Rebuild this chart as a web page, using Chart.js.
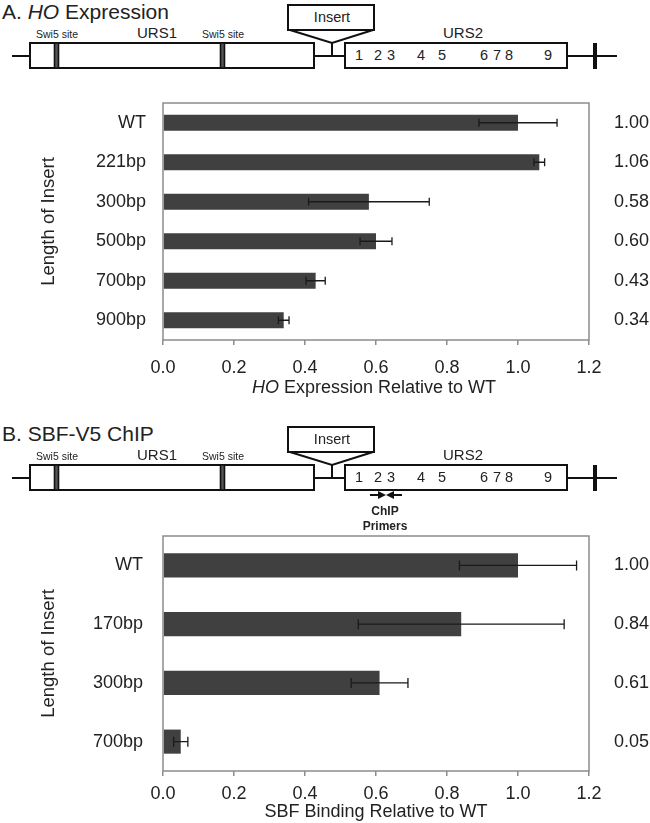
<!DOCTYPE html>
<html>
<head>
<meta charset="utf-8">
<script src="https://cdn.jsdelivr.net/npm/chart.js@4.4.1/dist/chart.umd.min.js"></script>
<style>
  body { margin: 0; background: #fff; }
  #page { position: relative; width: 650px; height: 823px; font-family: "Liberation Sans", Arial, sans-serif; color: #222; overflow: hidden; }
  .ptitle { position: absolute; left: 2px; font-size: 21px; line-height: 24px; white-space: nowrap; }
  .xtitle { position: absolute; font-size: 18px; line-height: 20px; white-space: nowrap; transform: translateX(-50%); }
  canvas, svg { position: absolute; left: 0; }
  svg { z-index: 2; }
  svg text { font-family: "Liberation Sans", Arial, sans-serif; fill: #222; }
</style>
</head>
<body>
<div id="page">
  <div class="ptitle" style="top:0">A. <i>HO</i> Expression</div>
  <svg id="diagA" width="650" height="90" style="top:0"></svg>
  <canvas id="chartA" width="650" height="310" style="top:90px"></canvas>
  <div class="xtitle" style="left:374px; top:377px"><i>HO</i> Expression Relative to WT</div>

  <div class="ptitle" style="top:422px">B. SBF-V5 ChIP</div>
  <svg id="diagB" width="650" height="113" style="top:422px"></svg>
  <canvas id="chartB" width="650" height="303" style="top:520px"></canvas>
</div>
<script>
// Panel A: HO expression relative to WT
const insertsA = ['WT', '221bp', '300bp', '500bp', '700bp', '900bp'];
const expressionA = [1.00, 1.06, 0.58, 0.60, 0.43, 0.34];
const errorA = [0.11, 0.015, 0.17, 0.045, 0.027, 0.015];

// Panel B: SBF binding relative to WT
const insertsB = ['WT', '170bp', '300bp', '700bp'];
const bindingB = [1.00, 0.84, 0.61, 0.05];
const errorB = [0.165, 0.29, 0.08, 0.02];

const xMin = 0, xMax = 1.2, xStep = 0.2;

// promoter sketch above each chart
const siteNums = ['1', '2', '3', '4', '5', '6', '7', '8', '9'];
const siteX = [359, 378, 391, 421, 442, 484, 497, 509, 548];

function drawDiagram(id, primers) {
  let s = '';
  s += '<line x1="12" y1="56" x2="617" y2="56" stroke="#111" stroke-width="2"/>';
  s += '<rect x="30" y="43" width="284" height="25" fill="#fff" stroke="#111" stroke-width="2"/>';
  s += '<rect x="54.5" y="43" width="4" height="25" fill="#555" stroke="#111" stroke-width="1.6"/>';
  s += '<rect x="220.5" y="43" width="4" height="25" fill="#555" stroke="#111" stroke-width="1.6"/>';
  s += '<rect x="345" y="43" width="222" height="25" fill="#fff" stroke="#111" stroke-width="2"/>';
  s += '<line x1="332" y1="42" x2="332" y2="56" stroke="#111" stroke-width="2"/>';
  s += '<polygon points="290,30 373,30 332,43" fill="#fff" stroke="#111" stroke-width="2"/>';
  s += '<rect x="288" y="5" width="86" height="25" fill="#fff" stroke="#111" stroke-width="2"/>';
  s += '<line x1="595" y1="43" x2="595" y2="69" stroke="#111" stroke-width="4"/>';
  s += '<text x="332" y="22" font-size="14.5" text-anchor="middle">Insert</text>';
  s += '<text x="57" y="38" font-size="10.5" text-anchor="middle">Swi5 site</text>';
  s += '<text x="223" y="38" font-size="10.5" text-anchor="middle">Swi5 site</text>';
  s += '<text x="157" y="38" font-size="15" text-anchor="middle">URS1</text>';
  s += '<text x="463" y="38" font-size="15" text-anchor="middle">URS2</text>';
  siteNums.forEach((n, i) => {
    s += '<text x="' + siteX[i] + '" y="60" font-size="14.5" text-anchor="middle">' + n + '</text>';
  });
  if (primers) {
    s += '<line x1="370" y1="73" x2="380" y2="73" stroke="#111" stroke-width="2"/>';
    s += '<polygon points="378,69 386,73 378,77" fill="#111"/>';
    s += '<line x1="392" y1="73" x2="402" y2="73" stroke="#111" stroke-width="2"/>';
    s += '<polygon points="394,69 386,73 394,77" fill="#111"/>';
    s += '<text x="385" y="93" font-size="12" font-weight="bold" text-anchor="middle">ChIP</text>';
    s += '<text x="385" y="108" font-size="12" font-weight="bold" text-anchor="middle">Primers</text>';
  }
  document.getElementById(id).innerHTML = s;
}
drawDiagram('diagA', false);
drawDiagram('diagB', true);

// error bars with caps, drawn on top of the bars
const errbars = {
  id: 'errbars',
  afterDatasetsDraw(chart, args, opts) {
    const ctx = chart.ctx;
    const x = chart.scales.x;
    const vals = chart.data.datasets[0].data;
    ctx.save();
    ctx.strokeStyle = '#1a1a1a';
    ctx.lineWidth = 1.3;
    chart.getDatasetMeta(0).data.forEach((bar, i) => {
      const lo = x.getPixelForValue(vals[i] - opts.errors[i]);
      const hi = x.getPixelForValue(vals[i] + opts.errors[i]);
      const y = bar.y, c = opts.cap;
      ctx.beginPath();
      ctx.moveTo(lo, y); ctx.lineTo(hi, y);
      ctx.moveTo(lo, y - c); ctx.lineTo(lo, y + c);
      ctx.moveTo(hi, y - c); ctx.lineTo(hi, y + c);
      ctx.stroke();
    });
    ctx.restore();
  }
};

// grey box round the plot area
const frame = {
  id: 'frame',
  afterDraw(chart) {
    const a = chart.chartArea, ctx = chart.ctx;
    ctx.save();
    ctx.strokeStyle = '#8c8c8c';
    ctx.lineWidth = 1.5;
    ctx.strokeRect(a.left, a.top, a.right - a.left, a.bottom - a.top);
    ctx.restore();
  }
};

function noPad(s) {
  s.paddingTop = 0;
  s.paddingBottom = 0;
}

function makeChart(id, labels, values, errors, cfg) {
  return new Chart(document.getElementById(id), {
    type: 'bar',
    data: {
      labels: labels,
      datasets: [{
        data: values,
        backgroundColor: '#404040',
        barPercentage: 0.41,
        categoryPercentage: 1
      }]
    },
    options: {
      indexAxis: 'y',
      responsive: false,
      animation: false,
      devicePixelRatio: 1,
      layout: { padding: { left: 38, top: cfg.top, right: 0, bottom: 0 } },
      plugins: {
        legend: { display: false },
        tooltip: { enabled: false },
        errbars: { errors: errors, cap: cfg.cap }
      },
      scales: {
        x: {
          min: xMin, max: xMax,
          ticks: { stepSize: xStep, callback: v => v.toFixed(1), font: { size: 18 }, color: '#222', padding: cfg.tickPad, maxRotation: 0 },
          grid: { drawOnChartArea: false, tickLength: 5, color: '#8c8c8c', lineWidth: 1.5 },
          border: { display: false },
          title: cfg.xTitle
            ? { display: true, text: cfg.xTitle, font: { size: 18 }, color: '#222', padding: { top: 0, bottom: 0 } }
            : { display: false },
          afterFit: s => { s.height = cfg.xh; }
        },
        y: {
          ticks: { font: { size: 18 }, color: '#222', padding: cfg.catPad },
          grid: { display: false, drawTicks: false },
          border: { display: false },
          title: { display: true, text: 'Length of Insert', font: { size: 18.5 }, color: '#222', padding: { top: 0, bottom: 0 } },
          afterFit: s => { s.width = 125; noPad(s); }
        },
        y2: {
          type: 'category',
          position: 'right',
          offset: true,
          labels: values.map(v => v.toFixed(2)),
          ticks: { font: { size: 18 }, color: '#222', padding: 25 },
          grid: { display: false, drawTicks: false },
          border: { display: false },
          afterFit: s => { s.width = 61; noPad(s); }
        }
      }
    },
    plugins: [errbars, frame]
  });
}

makeChart('chartA', insertsA, expressionA, errorA, { top: 13, xh: 60, cap: 4, tickPad: 12, catPad: 17, xTitle: null });
makeChart('chartB', insertsB, bindingB, errorB, { top: 16, xh: 52, cap: 5, tickPad: 7, catPad: 20, xTitle: 'SBF Binding Relative to WT' });
</script>
</body>
</html>
